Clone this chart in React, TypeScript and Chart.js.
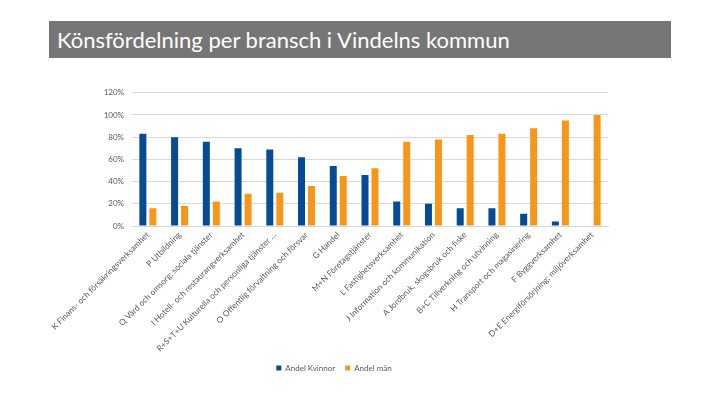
import React, { useEffect, useRef } from "react";
import { Chart, registerables } from "chart.js";

Chart.register(...registerables);

const titleText = "Könsfördelning per bransch i Vindelns kommun";

const categories = [
  "K Finans- och försäkringsverksamhet",
  "P Utbildning",
  "Q Vård och omsorg; sociala tjänster",
  "I Hotell- och restaurangverksamhet",
  "R+S+T+U Kulturella och personliga tjänster …",
  "O Offentlig förvaltning och försvar",
  "G Handel",
  "M+N Företagstjänster",
  "L Fastighetsverksamhet",
  "J Information och kommunikation",
  "A Jordbruk, skogsbruk och fiske",
  "B+C Tillverkning och utvinning",
  "H Transport och magasinering",
  "F Byggverksamhet",
  "D+E Energiförsörjning; miljöverksamhet",
];

const seriesNames = ["Andel Kvinnor", "Andel män"];
const womenShare = [83, 80, 76, 70, 69, 62, 54, 46, 22, 20, 16, 16, 11, 4, 0];
const menShare = [16, 18, 22, 29, 30, 36, 45, 52, 76, 78, 82, 83, 88, 95, 100];

const yMin = 0;
const yMax = 120;
const yStep = 20;

const BLUE = "#064B93";
const ORANGE = "#F8961A";
const TEXT = "#595959";
const GRID = "#d9d9d9";

export default function App() {
  const canvasRef = useRef<HTMLCanvasElement | null>(null);

  useEffect(() => {
    if (!canvasRef.current) return;
    const chart = new Chart(canvasRef.current, {
      type: "bar",
      data: {
        labels: categories,
        datasets: [
          {
            label: seriesNames[0],
            data: womenShare,
            backgroundColor: BLUE,
            categoryPercentage: 0.63,
            barPercentage: 0.7,
          },
          {
            label: seriesNames[1],
            data: menShare,
            backgroundColor: ORANGE,
            categoryPercentage: 0.63,
            barPercentage: 0.7,
          },
        ],
      },
      options: {
        animation: false,
        responsive: false,
        maintainAspectRatio: false,
        layout: { padding: { left: 60, right: 12, top: 10, bottom: 0 } },
        plugins: {
          legend: {
            position: "bottom",
            labels: {
              boxWidth: 5,
              boxHeight: 5,
              padding: 10,
              color: TEXT,
              font: { family: "Lato", size: 8 },
            },
          },
          tooltip: { enabled: false },
        },
        scales: {
          x: {
            grid: { display: false, drawTicks: false },
            border: { display: true, color: GRID },
            ticks: {
              autoSkip: false,
              minRotation: 45,
              maxRotation: 45,
              padding: 4,
              color: TEXT,
              font: { family: "Lato", size: 8.3 },
            },
            afterFit: (scale: any) => {
              scale.height = 128;
            },
          },
          y: {
            min: yMin,
            max: yMax,
            grid: { color: GRID, drawTicks: false },
            border: { display: false },
            ticks: {
              stepSize: yStep,
              padding: 8,
              color: TEXT,
              font: { family: "Lato", size: 8 },
              callback: (v: any) => v + "%",
            },
            afterFit: (scale: any) => {
              scale.width = 72;
            },
          },
        },
      },
    });
    return () => chart.destroy();
  }, []);

  return (
    <div style={{ position: "absolute", left: 0, top: 0, width: 720, height: 405, background: "#fff" }}>
      <div
        style={{
          position: "absolute",
          left: 49,
          top: 21,
          width: 622,
          height: 37,
          background: "#767676",
          color: "#fff",
          fontFamily: "Lato",
          fontSize: 22,
          display: "flex",
          alignItems: "center",
          paddingLeft: 8,
          boxSizing: "border-box",
        }}
      >
        {titleText}
      </div>
      <canvas
        ref={canvasRef}
        width={620}
        height={302}
        style={{ position: "absolute", left: 0, top: 80, width: 620, height: 302 }}
      />
    </div>
  );
}
